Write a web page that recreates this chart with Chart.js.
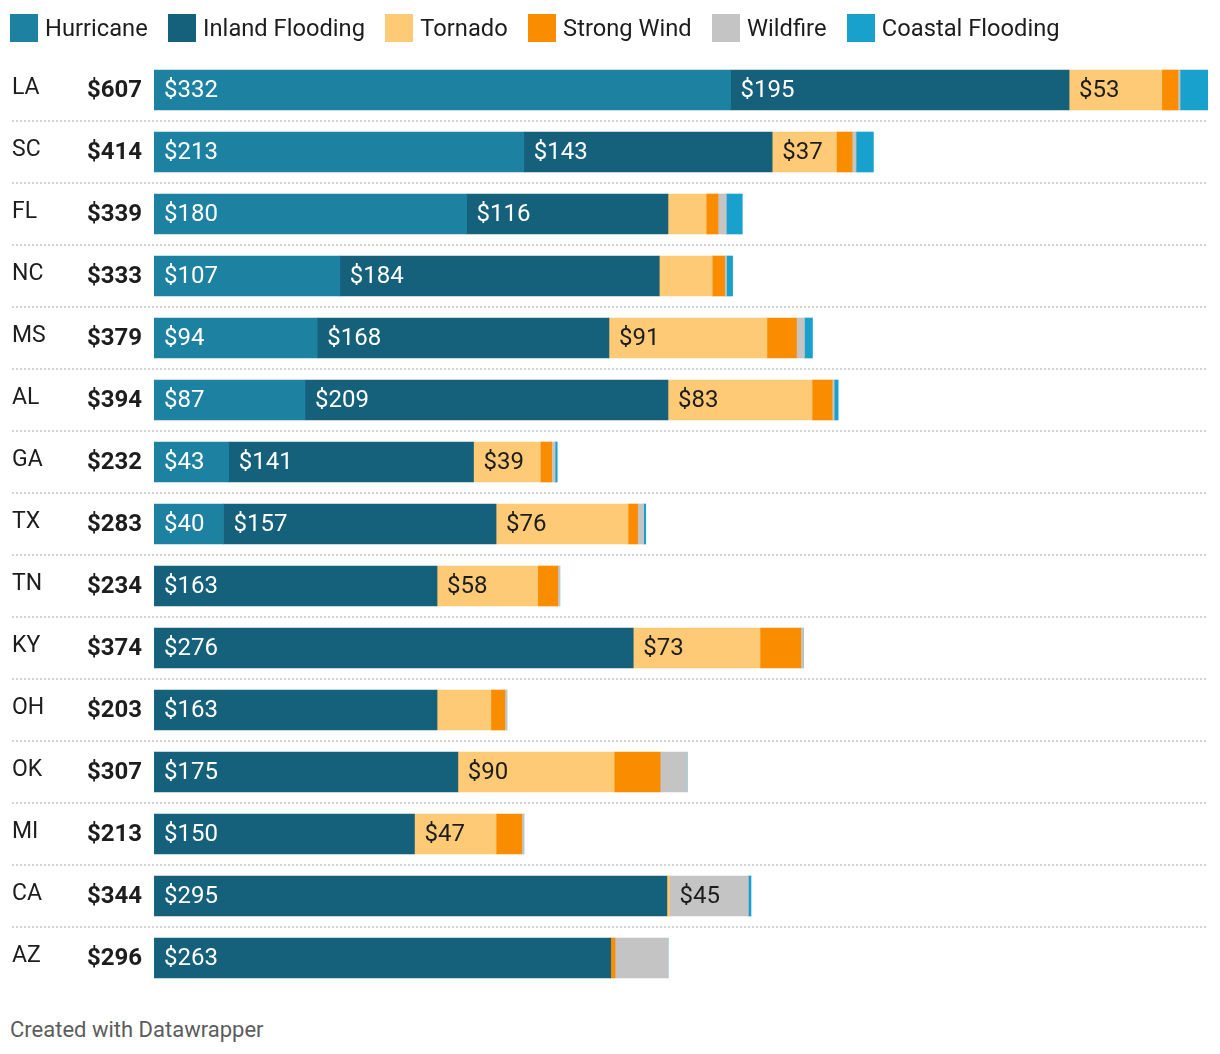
<!DOCTYPE html>
<html>
<head>
<meta charset="utf-8">
<script src="https://cdn.jsdelivr.net/npm/chart.js@4.4.1/dist/chart.umd.min.js"></script>
<style>
  body { margin: 0; background: #fff; font-family: Roboto, sans-serif; }
  #wrap { position: absolute; left: 0; top: 0; width: 1220px; height: 1003px; }
  #legend { position: absolute; left: 10px; top: 14px; display: flex; }
  .item { display: flex; align-items: center; margin-right: 20.4px; font-size: 23.7px; line-height: 28px; color: #1d1d1d; }
  .box { width: 28px; height: 28px; margin-right: 7px; }
  #footer { position: absolute; left: 10px; top: 1017px; font-size: 22px; line-height: 26px; color: #5c5c5c; }
</style>
</head>
<body>
<div id="wrap"><canvas id="chart"></canvas></div>
<div id="legend"></div>
<div id="footer">Created with Datawrapper</div>
<script>
const states = ['LA', 'SC', 'FL', 'NC', 'MS', 'AL', 'GA', 'TX', 'TN', 'KY', 'OH', 'OK', 'MI', 'CA', 'AZ'];
const totals = [607, 414, 339, 333, 379, 394, 232, 283, 234, 374, 203, 307, 213, 344, 296];

const hurricane = [332, 213, 180, 107, 94, 87, 43, 40, 0, 0, 0, 0, 0, 0, 0];
const inlandFlooding = [195, 143, 116, 184, 168, 209, 141, 157, 163, 276, 163, 175, 150, 295.4, 263];
const tornado = [53.4, 37, 22, 30.5, 91, 83, 38.5, 76, 58, 73, 31, 90, 47, 1.5, 0];
const strongWind = [9.3, 9, 6.8, 7.1, 17, 11.5, 6.5, 5.5, 11.5, 23.5, 8, 26.5, 14.8, 0, 2.5];
const wildfire = [1.2, 2.3, 4.8, 1.1, 4.6, 1.2, 2, 3.5, 1.2, 1.5, 1.2, 15.5, 1.2, 45.4, 30.5];
const coastalFlooding = [16.1, 10, 9.2, 3.5, 4.6, 2.3, 1.2, 1.2, 0, 0, 0, 0, 0, 1.5, 0];

const seriesNames = ['Hurricane', 'Inland Flooding', 'Tornado', 'Strong Wind', 'Wildfire', 'Coastal Flooding'];
const seriesValues = [hurricane, inlandFlooding, tornado, strongWind, wildfire, coastalFlooding];
const seriesColors = ['#1d81a2', '#15607a', '#ffca76', '#fa8c00', '#c4c4c4', '#18a1cd'];
const labelColors = ['#ffffff', '#ffffff', '#1d1d1d', '#1d1d1d', '#1d1d1d', '#ffffff'];

const FONT = 'Roboto';

// legend
const legendEl = document.getElementById('legend');
seriesNames.forEach((name, i) => {
    const item = document.createElement('div');
    item.className = 'item';
    item.innerHTML = '<span class="box" style="background:' + seriesColors[i] + '"></span>' + name;
    legendEl.appendChild(item);
});

// dotted row separators
const separators = {
    id: 'separators',
    beforeDatasetsDraw(chart) {
        const {ctx, chartArea, scales} = chart;
        const y = scales.y;
        ctx.save();
        ctx.strokeStyle = '#d4d4d4';
        ctx.lineWidth = 2;
        ctx.setLineDash([2, 2]);
        for (let i = 0; i < states.length - 1; i++) {
            const py = Math.round((y.getPixelForValue(i) + y.getPixelForValue(i + 1)) / 2);
            ctx.beginPath();
            ctx.moveTo(12, py);
            ctx.lineTo(chartArea.right, py);
            ctx.stroke();
        }
        ctx.restore();
    }
};

// totals + segment labels
const valueLabels = {
    id: 'valueLabels',
    afterDatasetsDraw(chart) {
        const {ctx, chartArea, scales} = chart;
        ctx.save();
        ctx.textBaseline = 'middle';

        ctx.font = 'bold 24px ' + FONT;
        ctx.fillStyle = '#1d1d1d';
        ctx.textAlign = 'right';
        totals.forEach((t, i) => {
            ctx.fillText('$' + t, chartArea.left - 12, scales.y.getPixelForValue(i) + 1);
        });

        ctx.font = '24px ' + FONT;
        ctx.textAlign = 'left';
        chart.data.datasets.forEach((ds, di) => {
            const meta = chart.getDatasetMeta(di);
            meta.data.forEach((bar, i) => {
                const v = ds.data[i];
                if (!v) return;
                const text = '$' + Math.round(v);
                const left = Math.min(bar.x, bar.base);
                const w = Math.abs(bar.x - bar.base);
                if (w < ctx.measureText(text).width + 20) return;
                ctx.fillStyle = labelColors[di];
                ctx.fillText(text, left + 10, bar.y + 1);
            });
        });
        ctx.restore();
    }
};

try {
    const ctx = document.getElementById('chart').getContext('2d');
    new Chart(ctx, {
        type: 'bar',
        data: {
            labels: states,
            datasets: seriesNames.map((name, i) => ({
                label: name,
                data: seriesValues[i],
                backgroundColor: seriesColors[i],
                borderWidth: 0,
                barThickness: 40
            }))
        },
        options: {
            indexAxis: 'y',
            responsive: true,
            maintainAspectRatio: false,
            animation: false,
            layout: { padding: { top: 59, right: 12, bottom: 14, left: 12 } },
            scales: {
                x: { stacked: true, display: false, min: 0, max: 607 },
                y: {
                    stacked: true,
                    grid: { display: false },
                    border: { display: false },
                    afterFit: s => { s.width = 142; },
                    ticks: {
                        crossAlign: 'far',
                        padding: 0,
                        labelOffset: -2,
                        color: '#1d1d1d',
                        font: { family: FONT, size: 23 }
                    }
                }
            },
            plugins: {
                legend: { display: false },
                tooltip: { enabled: false }
            }
        },
        plugins: [separators, valueLabels]
    });
} catch (e) {
    console.error('Error rendering chart:', e);
}
</script>
</body>
</html>
